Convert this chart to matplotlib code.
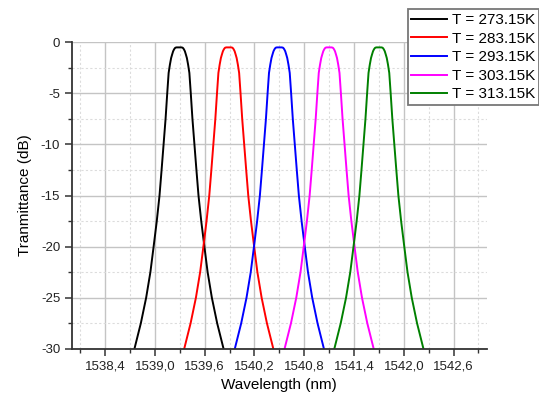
import numpy as np
import matplotlib
matplotlib.use('Agg')
import matplotlib.pyplot as plt
from matplotlib.ticker import MultipleLocator, FuncFormatter

plt.rcParams['font.family'] = ['Liberation Sans', 'DejaVu Sans']
plt.rcParams['axes.unicode_minus'] = False

# ── data ───────────────────────────────────────────────
labels  = ['T = 273.15K', 'T = 283.15K', 'T = 293.15K', 'T = 303.15K', 'T = 313.15K']
centers = [1539.29, 1539.89, 1540.50, 1541.10, 1541.70]   # peak wavelength (nm)
colors  = ['#000000', '#ff0000', '#0000ff', '#ff00ff', '#008000']

# one half of the filter profile: offset from centre (nm) -> transmittance (dB)
half_offset = [0.0, 0.03, 0.044, 0.052, 0.060, 0.071, 0.083, 0.095, 0.110,
               0.125, 0.142, 0.162, 0.186, 0.210, 0.235, 0.268, 0.306,
               0.345, 0.396, 0.460, 0.537, 0.600]
half_db     = [-0.5, -0.5, -0.53, -0.6, -0.7, -0.88, -1.2, -1.54, -2.2,
               -3.0, -5.0, -7.5, -10.0, -12.5, -15.0, -17.5, -20.0,
               -22.5, -25.0, -27.5, -30.0, -32.0]

offset = np.concatenate([-np.array(half_offset[::-1]), np.array(half_offset[1:])])
trans  = np.concatenate([np.array(half_db[::-1]), np.array(half_db[1:])])

# ── plot ───────────────────────────────────────────────
fig = plt.figure(figsize=(5.39, 3.96), dpi=100)
ax = fig.add_axes([0.1336, 0.1194, 0.903 - 0.1336, 0.8932 - 0.1194])

for c, col, lab in zip(centers, colors, labels):
    ax.plot(c + offset, trans, color=col, lw=1.4, label=lab)

ax.set_xlim(1538.0, 1543.0)
ax.set_ylim(-30, 0)
ax.yaxis.set_major_locator(MultipleLocator(5))
ax.yaxis.set_minor_locator(MultipleLocator(2.5))

# ticks at 1538.4 + k*0.6, minor half way
ax.set_xticks(np.arange(1538.4, 1542.7, 0.6))
ax.set_xticks(np.arange(1538.1, 1543.0, 0.3), minor=True)
ax.xaxis.set_major_formatter(FuncFormatter(lambda v, p: f'{v:.1f}'.replace('.', ',')))
ax.yaxis.set_major_formatter(FuncFormatter(lambda v, p: f'{v:.0f}'))

ax.grid(which='major', color='#c4c4c4', lw=1.0)
ax.grid(which='minor', color='#dcdcdc', lw=0.8, ls=(0, (2, 2)))
ax.set_axisbelow(True)

for s in ['top', 'right']:
    ax.spines[s].set_visible(False)
for s in ['left', 'bottom']:
    ax.spines[s].set_color('#333333')
    ax.spines[s].set_linewidth(1.3)

ax.tick_params(which='major', direction='out', length=5, width=1.1,
               color='#333333', labelsize=9.5, labelcolor='#222222')
ax.tick_params(which='minor', direction='out', length=3, width=1.0, color='#333333')

ax.set_xlabel('Wavelength (nm)', fontsize=11, labelpad=4)
ax.set_ylabel('Tranmittance (dB)', fontsize=11, labelpad=6)

leg = ax.legend(loc='upper right', bbox_to_anchor=(1.0, 0.9765),
                bbox_transform=fig.transFigure, fontsize=11,
                handlelength=2.3, handletextpad=0.35, labelspacing=0.3,
                borderpad=0.25, borderaxespad=0.0, fancybox=False,
                framealpha=1.0, edgecolor='#777777')
leg.get_frame().set_linewidth(1.3)

fig.savefig('out.png', dpi=100, facecolor='white')
